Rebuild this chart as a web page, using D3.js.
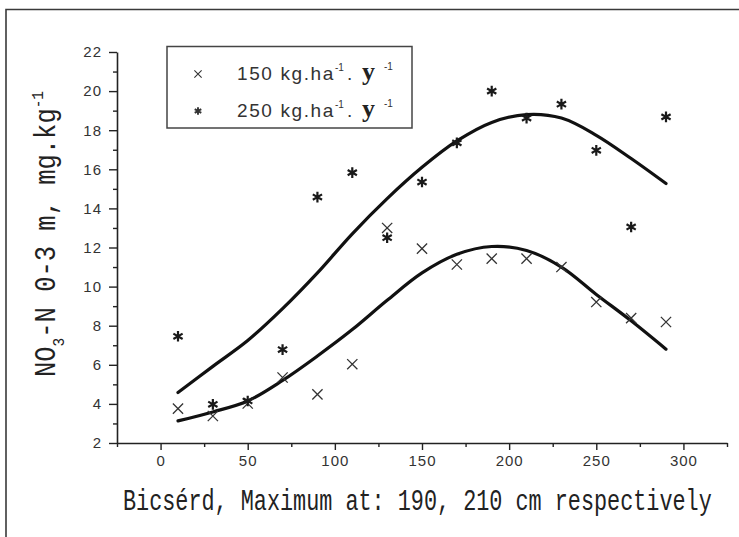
<!DOCTYPE html>
<html>
<head>
<meta charset="utf-8">
<script src="https://cdn.jsdelivr.net/npm/d3@7"></script>
<style>
  body { margin: 0; background: #fff; }
  svg { display: block; }
</style>
</head>
<body>
<div id="graph"></div>
<script>
// sampling depth, cm
var depth = [10, 30, 50, 70, 90, 110, 130, 150, 170, 190, 210, 230, 250, 270, 290];

// measured NO3-N (mg/kg) for the two N rates
var n150 = [3.76, 3.38, 4.02, 5.35, 4.49, 6.03, 13.0, 11.94, 11.13, 11.43, 11.43, 11.0, 9.21, 8.39, 8.19];
var n250 = [7.46, 3.98, 4.15, 6.78, 14.58, 15.83, 12.5, 15.35, 17.35, 20.0, 18.62, 19.33, 16.97, 13.05, 18.68];

// fitted curves at the same depths
var fit150 = [3.13, 3.59, 4.15, 5.2, 6.45, 7.8, 9.3, 10.7, 11.65, 12.05, 11.85, 11.0, 9.6, 8.25, 6.8];
var fit250 = [4.58, 5.92, 7.24, 8.87, 10.7, 12.7, 14.5, 16.1, 17.45, 18.4, 18.8, 18.62, 17.74, 16.55, 15.27];

var xTicks = [0, 50, 100, 150, 200, 250, 300];
var xMinor = [-25, 25, 75, 125, 175, 225, 275, 325];
var yTicks = [2, 4, 6, 8, 10, 12, 14, 16, 18, 20, 22];
var yMinor = [3, 5, 7, 9, 11, 13, 15, 17, 19, 21];

var legendLabels = ["150 kg.ha", "250 kg.ha"];
var xTitle = "Bicsérd, Maximum at: 190, 210 cm respectively";

var svg = d3.select("#graph").append("svg")
    .attr("width", 739)
    .attr("height", 537);

svg.append("rect").attr("width", 739).attr("height", 537).attr("fill", "#fff");

// scanned page frame
svg.append("path")
    .attr("d", "M6,537V9.5H739")
    .attr("fill", "none")
    .attr("stroke", "#3a3a3a")
    .attr("stroke-width", 1.6);

var x = d3.scaleLinear().domain([-25, 325]).range([117, 727]);
var y = d3.scaleLinear().domain([2, 22]).range([443, 52]);

var axisFont = "'Liberation Sans', Arial, sans-serif";

// x axis
svg.append("g")
    .attr("transform", "translate(0," + y(2) + ")")
    .call(d3.axisBottom(x).tickValues(xTicks).tickSize(7).tickPadding(5).tickSizeOuter(0));
svg.append("g")
    .attr("transform", "translate(0," + y(2) + ")")
    .call(d3.axisBottom(x).tickValues(xMinor).tickSize(4).tickFormat("").tickSizeOuter(0))
    .select(".domain").remove();

// y axis
svg.append("g")
    .attr("transform", "translate(" + x(-25) + ",0)")
    .call(d3.axisLeft(y).tickValues(yTicks).tickSize(8).tickPadding(7).tickSizeOuter(0));
svg.append("g")
    .attr("transform", "translate(" + x(-25) + ",0)")
    .call(d3.axisLeft(y).tickValues(yMinor).tickSize(4).tickFormat("").tickSizeOuter(0))
    .select(".domain").remove();

svg.selectAll(".domain").attr("stroke", "#222").attr("stroke-width", 1.6);
svg.selectAll(".tick line").attr("stroke", "#222").attr("stroke-width", 1.4);
svg.selectAll(".tick text")
    .attr("font-family", axisFont)
    .attr("font-size", 15)
    .attr("letter-spacing", 1)
    .attr("fill", "#333");

// fitted curves
var line = d3.line()
    .x(function(d) { return x(d[0]); })
    .y(function(d) { return y(d[1]); })
    .curve(d3.curveCatmullRom);

[fit150, fit250].forEach(function(fit) {
    svg.append("path")
        .datum(depth.map(function(dd, i) { return [dd, fit[i]]; }))
        .attr("fill", "none")
        .attr("stroke", "#111")
        .attr("stroke-width", 3.2)
        .attr("stroke-linecap", "round")
        .attr("d", line);
});

// points
var times = d3.symbol().type(d3.symbolTimes).size(70);
var star = d3.symbol().type(d3.symbolAsterisk).size(80);

svg.selectAll(".p150")
    .data(depth.map(function(dd, i) { return [dd, n150[i]]; }))
    .enter().append("path")
    .attr("class", "p150")
    .attr("transform", function(d) { return "translate(" + x(d[0]) + "," + y(d[1]) + ")"; })
    .attr("d", times)
    .attr("fill", "none")
    .attr("stroke", "#333")
    .attr("stroke-width", 1.3);

svg.selectAll(".p250")
    .data(depth.map(function(dd, i) { return [dd, n250[i]]; }))
    .enter().append("path")
    .attr("class", "p250")
    .attr("transform", function(d) { return "translate(" + x(d[0]) + "," + y(d[1]) + ")"; })
    .attr("d", star)
    .attr("fill", "none")
    .attr("stroke", "#1a1a1a")
    .attr("stroke-width", 2.2);

// legend
var lg = svg.append("g");
lg.append("rect")
    .attr("x", 167).attr("y", 46.5)
    .attr("width", 245).attr("height", 81.5)
    .attr("fill", "#fff")
    .attr("stroke", "#444")
    .attr("stroke-width", 1.5);

var legendRows = [
    {sym: d3.symbol().type(d3.symbolTimes).size(36), sw: 1.1, sy: 74, ty: 80},
    {sym: d3.symbol().type(d3.symbolAsterisk).size(40), sw: 1.9, sy: 111, ty: 117}
];
legendRows.forEach(function(r, i) {
    lg.append("path")
        .attr("transform", "translate(198," + r.sy + ")")
        .attr("d", r.sym)
        .attr("fill", "none")
        .attr("stroke", "#333")
        .attr("stroke-width", r.sw);
    var t = lg.append("text")
        .attr("x", 237).attr("y", r.ty)
        .attr("font-family", axisFont)
        .attr("font-size", 19)
        .style("letter-spacing", "1.6px")
        .attr("fill", "#333");
    t.append("tspan").text(legendLabels[i]);
    t.append("tspan").attr("x", 335).attr("dy", -9).attr("font-size", 10).style("letter-spacing", "0px").text("-1");
    t.append("tspan").attr("x", 347).attr("dy", 9).text(".");
    t.append("tspan").attr("x", 362)
        .attr("font-family", "'Liberation Serif', serif")
        .attr("font-weight", "bold")
        .attr("font-size", 26)
        .style("letter-spacing", "0px")
        .attr("fill", "#222")
        .text("y");
    t.append("tspan").attr("x", 384).attr("dy", -10).attr("font-size", 10).style("letter-spacing", "0px").text("-1");
});

var titleFont = "'Liberation Mono', 'DejaVu Sans Mono', monospace";

// x title, condensed monospace
svg.append("text")
    .attr("transform", "translate(123,510) scale(0.727,1)")
    .attr("font-family", titleFont)
    .attr("font-size", 30)
    .attr("fill", "#222")
    .text(xTitle);

// y title (rotated, condensed like the x title)
var yt = svg.append("text")
    .attr("transform", "translate(55,377) rotate(-90) scale(0.85,1)")
    .attr("font-family", titleFont)
    .attr("font-size", 30)
    .attr("fill", "#222");
yt.append("tspan").text("NO");
yt.append("tspan").attr("font-size", 17).attr("dy", 9).text("3");
yt.append("tspan").attr("dy", -9).text("-N 0-3 m, mg.kg");
yt.append("tspan").attr("font-size", 17).attr("dy", -12).text("-1");
</script>
</body>
</html>
